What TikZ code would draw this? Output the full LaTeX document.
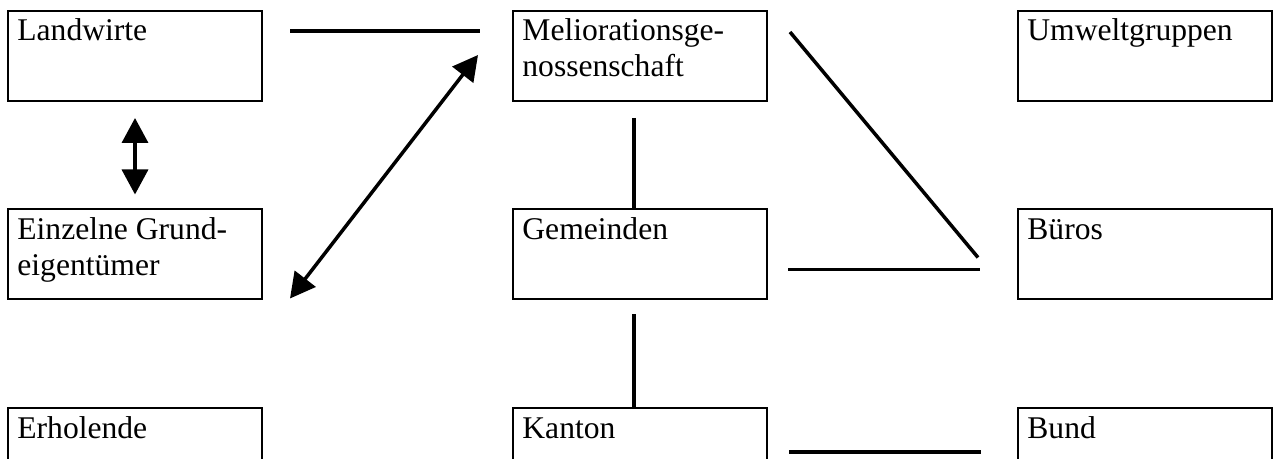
\documentclass[tikz,border=0pt]{standalone}
\usepackage{fontspec}
\setmainfont{Liberation Serif}
\usepackage{tikz}
\usetikzlibrary{arrows.meta,positioning,calc}
\newcommand{\boxfont}{\fontsize{15.8pt}{18pt}\selectfont}
\begin{document}
\begin{tikzpicture}[x=0.5pt,y=-0.5pt,node distance=252.5pt]

		\tikzset{%
			akteur/.style = {draw, line width=1pt, rectangle, inner sep=0pt, outer sep=0pt,
				minimum width=127pt, minimum height=45pt}, % Kasten
			lbl/.style    = {anchor=base west, inner sep=0pt, xshift=4.5pt, yshift=-15pt, font=\boxfont},
			verb/.style   = {line width=1.75pt}, % Linie
			dpfeil/.style = {verb, {Triangle[width=13pt,length=12.5pt]}-{Triangle[width=13pt,length=12.5pt]}}
		}

		\useasboundingbox (0,0) rectangle (1273,459);
		\clip (0,0) rectangle (1273,459);

		\node[akteur, label={[lbl]north west:\parbox[t]{120pt}{Landwirte}}] (landw) at (135,56) {};
		\node[akteur, right of=landw, label={[lbl]north west:\parbox[t]{120pt}{Meliorationsge-\\nossenschaft}}] (melio) {};
		\node[akteur, right of=melio, label={[lbl]north west:\parbox[t]{120pt}{Umweltgruppen}}] (umwelt) {};
		\node[akteur, below of=landw, node distance=99.25pt, label={[lbl]north west:\parbox[t]{120pt}{Einzelne Grund-\\eigentümer}}] (einzel) {};
		\node[akteur, right of=einzel, label={[lbl]north west:\parbox[t]{120pt}{Gemeinden}}] (gem) {};
		\node[akteur, right of=gem, label={[lbl]north west:\parbox[t]{120pt}{Büros}}] (bueros) {};
		\node[akteur, below of=einzel, node distance=99.25pt, label={[lbl]north west:\parbox[t]{120pt}{Erholende}}] (erhol) {};
		\node[akteur, right of=erhol, label={[lbl]north west:\parbox[t]{120pt}{Kanton}}] (kanton) {};
		\node[akteur, right of=kanton, label={[lbl]north west:\parbox[t]{120pt}{Bund}}] (bund) {};

		% Linien
		\draw[verb] ($(landw.north east)+(28,20)$) -- ($(melio.north west)+(-33,20)$);
		\draw[dpfeil] ($(landw.south)+(0,17)$) -- ($(einzel.north)+(0,-15)$);
		\draw[dpfeil] ($(einzel.south east)+(28,-1)$) -- ($(melio.north west)+(-35,44)$);
		\draw[verb] ($(melio.south)+(-6,17)$) -- ($(gem.north)+(-6,0)$);
		\draw[verb] ($(gem.south)+(-6,15)$) -- ($(kanton.north)+(-6,0)$);
		\draw[verb] ($(melio.north east)+(23,21)$) -- ($(bueros.north west)+(-40,48)$);
		\draw[verb] ($(gem.east)+(21,15)$) -- ($(bueros.west)+(-38,15)$);
		\draw[verb] ($(kanton.east)+(22,-1)$) -- ($(bund.west)+(-37,-1)$);

\end{tikzpicture}
\end{document}
